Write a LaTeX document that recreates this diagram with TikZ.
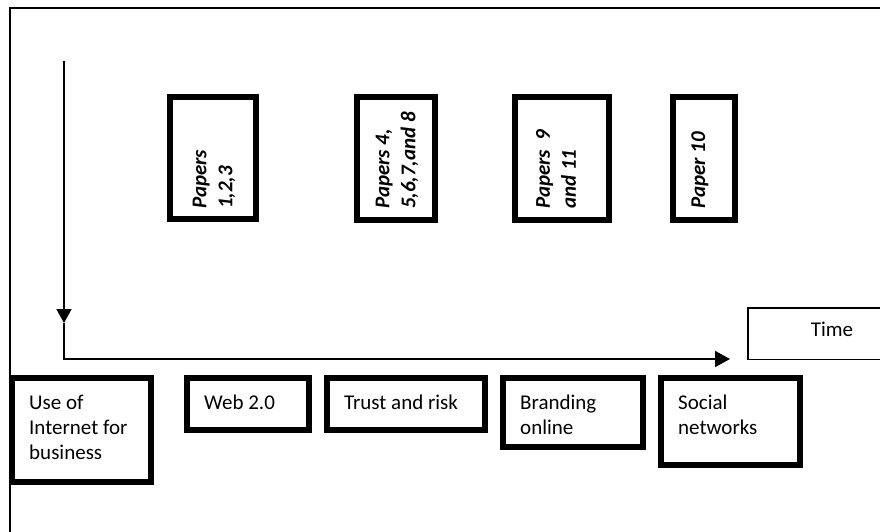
\documentclass[tikz,border=0pt]{standalone}
\usepackage{fontspec}
\setmainfont{Carlito}
\usetikzlibrary{arrows.meta}
\begin{document}
\begin{tikzpicture}[x=1pt,y=-1pt,
  thickbox/.style={draw=black,line width=6pt,outer sep=0pt,inner sep=0pt,anchor=north west},
  thinbox/.style={draw=black,line width=1.5pt,outer sep=0pt,inner sep=0pt,anchor=north west},
  btext/.style={font=\fontsize{21}{25}\selectfont,align=left,inner sep=0pt,anchor=base west},
  ptext/.style={font=\fontsize{21}{26}\selectfont\bfseries\itshape,align=left,inner sep=0pt,rotate=90,anchor=west},
  conn/.style={draw=black,line width=1.6pt}]
\useasboundingbox (0,0) rectangle (880,531);
\fill[white] (0,0) rectangle (880,531);
% outer frame
\draw[line width=2pt] (890,8) -- (10,8) -- (10,545);
% axes
\coordinate (vtop) at (64,61);
\coordinate (vtip) at (64,323);
\coordinate (corner) at (64,359);
\coordinate (htip) at (730,359);
\draw[conn,-{Triangle[length=14pt,width=15pt]}] (vtop) -- (vtip);
\draw[conn,line width=1.8pt,-{Triangle[length=15pt,width=16pt]}] (vtip) -- (corner) -- (htip);
% paper boxes
\node[thickbox,minimum width=86pt,minimum height=122pt] (p1) at (170,97) {};
\node[thickbox,minimum width=78pt,minimum height=123pt] (p2) at (357,97) {};
\node[thickbox,minimum width=94pt,minimum height=123pt] (p3) at (515,97) {};
\node[thickbox,minimum width=62pt,minimum height=123pt] (p4) at (673,97) {};
\node[ptext] (p1t) at (214,209) {Papers\\1,2,3};
\node[ptext] (p2t) at (397,209) {Papers 4,\\5,6,7,and 8};
\node[ptext] (p3t) at (556,209) {Papers~~9\\and 11};
\node[ptext] (p4t) at (700,209) {Paper 10};
% topic boxes
\node[thickbox,minimum width=139pt,minimum height=104pt] (use) at (12,378) {};
\node[thickbox,minimum width=122pt,minimum height=52pt] (web) at (187,378) {};
\node[thickbox,minimum width=158pt,minimum height=52pt] (trust) at (327,378) {};
\node[thickbox,minimum width=140pt,minimum height=69pt] (brand) at (503,378) {};
\node[thickbox,minimum width=139pt,minimum height=87pt] (social) at (661,378) {};
\node[btext] (uset) at (29,459) {Use of\\Internet for\\business};
\node[btext] (webt) at (204,409) {Web 2.0};
\node[btext] (trustt) at (344,409) {Trust and risk};
\node[btext] (brandt) at (520,434) {Branding\\online};
\node[btext] (socialt) at (678,434) {Social\\networks};
% time box
\node[thinbox,minimum width=200pt,minimum height=51.5pt] (time) at (747.75,307.75) {};
\node[font=\fontsize{21}{25}\selectfont,inner sep=0pt,anchor=base] (timet) at (832,336) {Time};
\end{tikzpicture}
\end{document}
